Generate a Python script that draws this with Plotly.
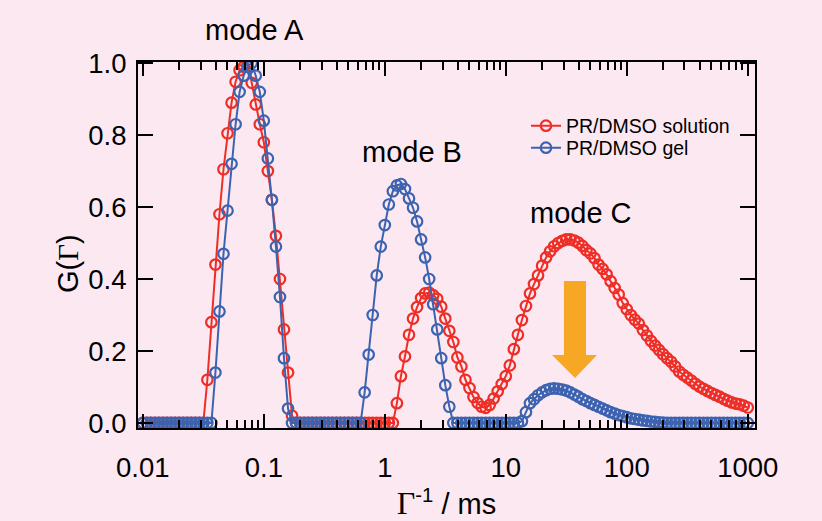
import plotly.graph_objects as go

# ---- data -------------------------------------------------------------
# relaxation-time grid (ms): 30 log-spaced points per decade, 0.01 .. 1000
mantissa = [1.0, 1.0798, 1.1659, 1.2589, 1.3594, 1.4678, 1.5849, 1.7113, 1.8478, 1.9953,
            2.1544, 2.3263, 2.5119, 2.7123, 2.9286, 3.1623, 3.4145, 3.6869, 3.9811, 4.2987,
            4.6416, 5.0119, 5.4117, 5.8434, 6.3096, 6.8129, 7.3564, 7.9433, 8.5770, 9.2611]
decades = [0.01, 0.1, 1, 10, 100]
last_tau = [1000.0]
tau = [d * m for d in decades for m in mantissa] + last_tau

solution = ([0.0] * 16 +
            [0.12, 0.28, 0.44, 0.58, 0.705, 0.805, 0.89, 0.948, 0.98, 0.99,
             1.0, 0.945, 0.885, 0.83, 0.78, 0.70, 0.62, 0.52, 0.40, 0.26,
             0.14, 0.02] +
            [0.0] * 25 +
            [0.055, 0.13, 0.185, 0.245, 0.29, 0.322, 0.347, 0.36, 0.362, 0.355,
             0.345, 0.323, 0.29, 0.256, 0.225, 0.182, 0.157, 0.12, 0.097, 0.072,
             0.056, 0.045, 0.042, 0.05, 0.068, 0.088, 0.108, 0.13, 0.16, 0.205,
             0.245, 0.286, 0.325, 0.36, 0.386, 0.41, 0.437, 0.46, 0.477, 0.491,
             0.50, 0.506, 0.51, 0.51, 0.507, 0.501, 0.492, 0.48, 0.471, 0.458,
             0.44, 0.428, 0.413, 0.394, 0.375, 0.357, 0.333, 0.316, 0.30, 0.287,
             0.276, 0.258, 0.243, 0.228, 0.215, 0.203, 0.191, 0.18, 0.17, 0.157,
             0.143, 0.134, 0.126, 0.118, 0.109, 0.101, 0.095, 0.089, 0.083, 0.078,
             0.073, 0.067, 0.062, 0.057, 0.054, 0.052, 0.048, 0.043])

gel = ([0.0] * 18 +
       [0.14, 0.31, 0.47, 0.59, 0.72, 0.83, 0.92, 0.965, 0.99, 1.0,
        0.965, 0.92, 0.84, 0.735, 0.62, 0.49, 0.35, 0.18, 0.04] +
       [0.0] * 18 +
       [0.085, 0.19, 0.30, 0.41, 0.49, 0.55, 0.607, 0.644, 0.66, 0.664,
        0.65, 0.624, 0.598, 0.56, 0.51, 0.46, 0.40, 0.33, 0.26, 0.18,
        0.105, 0.045] +
       [0.0] * 17 +
       [0.005, 0.03, 0.055, 0.066, 0.077, 0.085, 0.091, 0.095, 0.096, 0.095,
        0.093, 0.09, 0.085, 0.079, 0.073, 0.066, 0.061, 0.055, 0.05, 0.045,
        0.04, 0.035, 0.03, 0.026, 0.022, 0.019, 0.016, 0.013, 0.011, 0.009,
        0.007, 0.006, 0.004, 0.003, 0.002, 0.001] +
       [0.0] * 21)

assert len(tau) == len(solution) == len(gel) == 151

series_names = ["PR/DMSO solution", "PR/DMSO gel"]
x_tickvals = [0.01, 0.1, 1, 10, 100, 1000]
x_ticktext = ["0.01", "0.1", "1", "10", "100", "1000"]
x_minor = [m * 10.0 ** e for e in range(-2, 3) for m in range(2, 10)]
y_tickvals = [0.0, 0.2, 0.4, 0.6, 0.8, 1.0]

# ---- style ------------------------------------------------------------
BG = "#FCE8F1"
RED = "#EE2E26"
BLUE = "#3C63B0"
ORANGE = "#F6A723"
FONT = "Liberation Sans, Arial, sans-serif"
SERIF = "Liberation Serif, Times New Roman, serif"

W, H = 822, 521
L, R, T, B = 138, 755, 62, 428


def px(xp):
    return (xp - L) / (R - L)


def py(yp):
    return (B - yp) / (B - T)


fig = go.Figure()
for name, vals, col, leg in [(series_names[0], solution, RED, "legend"),
                             (series_names[1], gel, BLUE, "legend2")]:
    fig.add_trace(go.Scatter(
        x=tau, y=vals, name=name, mode="lines+markers", legend=leg,
        line=dict(color=col, width=2),
        marker=dict(symbol="circle-open", size=10.5, color=col,
                    line=dict(width=2.2, color=col)),
    ))

axis_common = dict(showline=True, linecolor="black", linewidth=2, mirror="ticks",
                   ticks="inside", tickcolor="black", tickwidth=2, showgrid=False,
                   zeroline=False, tickfont=dict(family=FONT, size=27.5, color="black"))

legend_common = dict(xanchor="left", yanchor="middle", bgcolor="rgba(0,0,0,0)",
                     font=dict(family=FONT, size=19.5, color="black"), itemwidth=30)

fig.update_layout(
    width=W, height=H,
    margin=dict(l=L, r=W - R, t=T, b=H - B, autoexpand=False),
    paper_bgcolor=BG, plot_bgcolor=BG,
    font=dict(family=FONT, color="black"),
    xaxis=dict(type="log", range=[-2.04, 3.06], tickmode="array",
               tickvals=x_tickvals, ticktext=x_ticktext, ticklen=14,
               ticklabelstandoff=14,
               minor=dict(tickmode="array", tickvals=x_minor, ticks="inside",
                          ticklen=8, tickwidth=1.5, tickcolor="black", showgrid=False),
               title=dict(text=f'<span style="font-family:{SERIF};font-size:32px">Γ</span><sup>-1</sup> / ms',
                          font=dict(family=FONT, size=29), standoff=12),
               automargin=False, **axis_common),
    yaxis=dict(range=[-0.014, 1.003], tickmode="array", tickvals=y_tickvals,
               tickformat=".1f", ticklen=15, ticklabelstandoff=4,
               automargin=False, **axis_common),
    legend=dict(x=px(526), y=py(126), **legend_common),
    legend2=dict(x=px(526), y=py(148), **legend_common),
    showlegend=True,
)

# y-axis title placed as a rotated annotation
fig.add_annotation(text=f'G(<span style="font-family:{SERIF}">Γ</span>)',
                   x=px(68), y=py(264), xref="paper", yref="paper", showarrow=False,
                   textangle=-90, font=dict(family=FONT, size=29, color="black"),
                   xanchor="center", yanchor="middle")

for text, xc, yc in [("mode A", 254, 30), ("mode B", 412, 152), ("mode C", 581, 213)]:
    fig.add_annotation(text=text, x=px(xc), y=py(yc), xref="paper", yref="paper",
                       showarrow=False, font=dict(family=FONT, size=29, color="black"),
                       xanchor="center", yanchor="middle")

# orange block arrow (pixel outline converted to paper coordinates)
arrow_px = [(564, 281), (586, 281), (586, 355), (597, 355), (575, 378),
            (552, 355), (564, 355)]
path = "M " + " L ".join(f"{px(a):.4f},{py(b):.4f}" for a, b in arrow_px) + " Z"
fig.add_shape(type="path", path=path, xref="paper", yref="paper",
              fillcolor=ORANGE, line=dict(width=0), layer="above")

fig.write_html("out.html")
